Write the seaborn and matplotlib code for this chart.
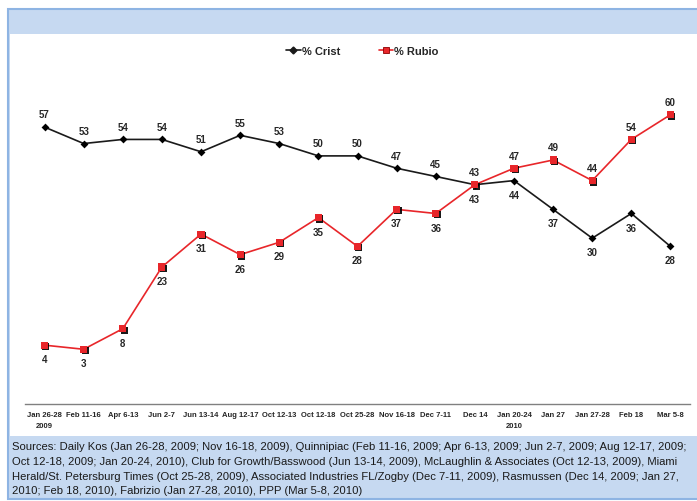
import pandas as pd
import matplotlib.pyplot as plt
import matplotlib.patheffects as pe
import seaborn as sns
from matplotlib.patches import Rectangle
from matplotlib.lines import Line2D

dates = ["Jan 26-28\n2009", "Feb 11-16", "Apr 6-13", "Jun 2-7", "Jun 13-14", "Aug 12-17",
         "Oct 12-13", "Oct 12-18", "Oct 25-28", "Nov 16-18", "Dec 7-11", "Dec 14",
         "Jan 20-24\n2010", "Jan 27", "Jan 27-28", "Feb 18", "Mar 5-8"]
crist = [57, 53, 54, 54, 51, 55, 53, 50, 50, 47, 45, 43, 44, 37, 30, 36, 28]
rubio = [4, 3, 8, 23, 31, 26, 29, 35, 28, 37, 36, 43, 47, 49, 44, 54, 60]

sources = ("Sources: Daily Kos (Jan 26-28, 2009; Nov 16-18, 2009), Quinnipiac (Feb 11-16, 2009; Apr 6-13, 2009; Jun 2-7, 2009; Aug 12-17, 2009;\n"
           "Oct 12-18, 2009; Jan 20-24, 2010), Club for Growth/Basswood (Jun 13-14, 2009), McLaughlin & Associates (Oct 12-13, 2009), Miami\n"
           "Herald/St. Petersburg Times (Oct 25-28, 2009), Associated Industries FL/Zogby (Dec 7-11, 2009), Rasmussen (Dec 14, 2009; Jan 27,\n"
           "2010; Feb 18, 2010), Fabrizio (Jan 27-28, 2010), PPP (Mar 5-8, 2010)")

sns.set_style("white")
plt.rcParams['font.family'] = ['Liberation Sans', 'DejaVu Sans']

n = len(dates)
df = pd.DataFrame({
    "idx": list(range(n)) * 2,
    "value": crist + rubio,
    "who": ["% Crist"] * n + ["% Rubio"] * n,
})
pal = {"% Crist": "#1a1a1a", "% Rubio": "#e8262a"}

fig = plt.figure(figsize=(6.97, 5.02), dpi=100)
W, H = 697, 502

def frect(x0, y0, x1, y1, **kw):
    fig.patches.append(Rectangle((x0 / W, 1 - y1 / H), (x1 - x0) / W, (y1 - y0) / H,
                                 transform=fig.transFigure, **kw))

# frame: header band, white panel, sources band
frect(8, 10, 700, 500, facecolor="#c6d9f1", edgecolor="#8eb4e3", linewidth=1.5, zorder=-10)
frect(10, 35, 700, 437, facecolor="white", edgecolor="none", zorder=-9)

ax = fig.add_axes([25 / W, 1 - 405 / H, 665 / W, (405 - 74.6) / H])
ax.set_facecolor("none")

sns.lineplot(data=df, x="idx", y="value", hue="who", palette=pal,
             linewidth=1.2, ax=ax, legend=False)
sns.scatterplot(data=df[df.who == "% Crist"], x="idx", y="value", color="black",
                marker="D", s=16, linewidth=0, ax=ax, legend=False, zorder=3)
sns.scatterplot(data=df[df.who == "% Rubio"], x="idx", y="value", color="#e8262a",
                marker="s", s=26, linewidth=0, ax=ax, legend=False, zorder=3)
ax.collections[-1].set_path_effects([pe.SimplePatchShadow(offset=(1, -1), shadow_rgbFace="black", alpha=0.9),
                                     pe.Normal()])

for i in range(n):
    c_up = i < 12
    ax.annotate(str(crist[i]), (i, crist[i]), xytext=(0, 5.5 if c_up else -6.5), textcoords="offset points",
                ha="center", va="bottom" if c_up else "top", fontsize=7, fontweight="bold")
    ax.annotate(str(rubio[i]), (i, rubio[i]), xytext=(0, -6.5 if c_up else 5.5), textcoords="offset points",
                ha="center", va="top" if c_up else "bottom", fontsize=7, fontweight="bold")

ax.set_xlim(-0.5, n - 0.5)
ax.set_ylim(-10.3, 70)
ax.set_xticks(range(n))
ax.set_xticklabels(dates, fontsize=5.5, fontweight="bold", linespacing=1.9)
ax.set_xticks([i - 0.5 for i in range(n + 1)], minor=True)
ax.tick_params(axis="x", which="major", length=0, pad=5)
ax.tick_params(axis="x", which="minor", length=3, direction="out", color="#808080", width=0.8)
ax.set_yticks([])
ax.set_xlabel("")
ax.set_ylabel("")
for s in ["left", "right", "top"]:
    ax.spines[s].set_visible(False)
ax.spines["bottom"].set_color("#808080")
ax.spines["bottom"].set_linewidth(1)

# legend
handles = [Line2D([], [], color="#1a1a1a", marker="D", markersize=3.5, linewidth=1.2),
           Line2D([], [], color="#e8262a", marker="s", markersize=4.5, markeredgecolor="#8b0000",
                  markeredgewidth=0.6, linewidth=1.2)]
fig.legend(handles, ["% Crist", "% Rubio"], loc="center", bbox_to_anchor=(0.52, 1 - 52 / H),
           ncol=2, frameon=False, prop={"size": 8, "weight": "bold"}, handlelength=1.3,
           handletextpad=0.1, columnspacing=3.5)

fig.text(12 / W, 1 - 442 / H, sources, fontsize=8.1, va="top", ha="left", linespacing=1.6,
         color="#1a1a1a")

plt.savefig("out.png", dpi=100)
plt.close()
